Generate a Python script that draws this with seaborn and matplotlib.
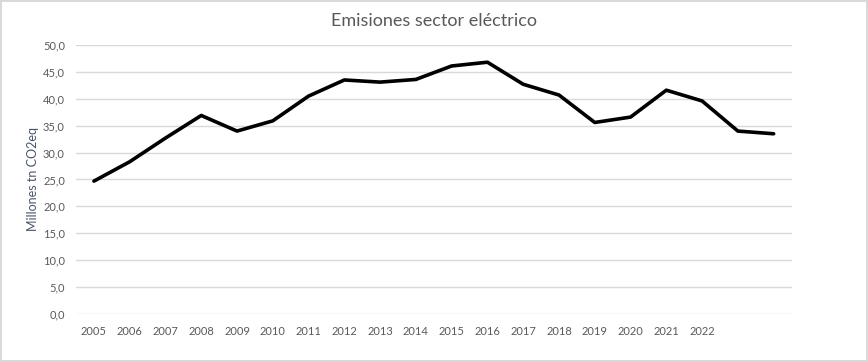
import matplotlib
matplotlib.use("Agg")
import matplotlib.pyplot as plt
import seaborn as sns
import pandas as pd

# Data
years = [2005, 2006, 2007, 2008, 2009, 2010, 2011, 2012, 2013, 2014,
         2015, 2016, 2017, 2018, 2019, 2020, 2021, 2022, 2023, 2024]
emisiones = [24.7, 28.3, 32.7, 36.9, 34.0, 35.9, 40.5, 43.5, 43.1, 43.6,
             46.1, 46.8, 42.7, 40.7, 35.6, 36.6, 41.6, 39.6, 34.0, 33.5]
tick_labels = ["2005", "2006", "2007", "2008", "2009", "2010", "2011", "2012", "2013", "2014",
               "2015", "2016", "2017", "2018", "2019", "2020", "2021", "2022", "", ""]
y_ticks = [0, 5, 10, 15, 20, 25, 30, 35, 40, 45, 50]

df = pd.DataFrame({"year": years, "valor": emisiones})

sns.set_style("white")
plt.rcParams["font.family"] = ["Lato", "DejaVu Sans"]

grey = "#595959"
fig = plt.figure(figsize=(8.68, 3.62), dpi=100, edgecolor="#d9d9d9", linewidth=1.5)
ax = fig.add_axes([0.0876, 0.1326, 0.8243, 0.7431])

sns.lineplot(data=df, x="year", y="valor", color="black", linewidth=2.6, ax=ax)

ax.set_xlim(years[0] - 0.5, years[-1] + 0.5)
ax.set_ylim(0, 50)
ax.set_yticks(y_ticks)
ax.set_yticklabels([f"{v:.1f}".replace(".", ",") for v in y_ticks])
ax.set_xticks(years)
ax.set_xticklabels(tick_labels)
ax.yaxis.grid(True, color="#d9d9d9", linewidth=1)
ax.set_axisbelow(True)
for s in ax.spines.values():
    s.set_visible(False)
ax.tick_params(axis="both", length=0, labelsize=8, colors=grey)
ax.tick_params(axis="x", pad=9)
ax.tick_params(axis="y", pad=8)

ax.set_xlabel("")
ax.set_ylabel("Millones tn CO2eq", fontsize=9, color="#4a5468")
ax.yaxis.set_label_coords(-0.052, 0.5)
fig.suptitle("Emisiones sector eléctrico", y=0.965, fontsize=13, color=grey)

plt.savefig("out.png", dpi=100, edgecolor=fig.get_edgecolor())
